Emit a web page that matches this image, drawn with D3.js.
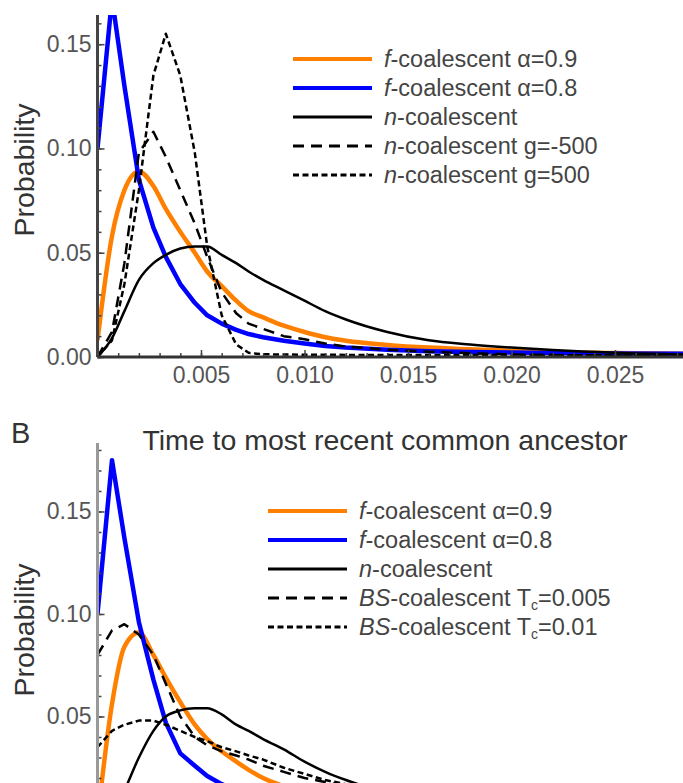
<!DOCTYPE html>
<html>
<head>
<meta charset="utf-8">
<script src="https://cdn.jsdelivr.net/npm/d3@7/dist/d3.min.js"></script>
<style>
  body { margin: 0; background: #fff; }
  svg { display: block; font-family: "Liberation Sans", Arial, sans-serif; }
</style>
</head>
<body>
<div id="chart"></div>
<script>
// time points shared by every curve (x axis)
var timeGrid = [0, 0.0007, 0.0013, 0.002, 0.0027, 0.0033, 0.004, 0.0047, 0.0053, 0.006, 0.0067, 0.0073,
                0.008, 0.009, 0.010, 0.011, 0.012, 0.014, 0.016, 0.018, 0.020, 0.022, 0.025, 0.030];

// panel A
var fAlpha09A = [0.008, 0.058, 0.080, 0.089, 0.082, 0.071, 0.060, 0.050, 0.041, 0.034, 0.027, 0.022,
                 0.019, 0.015, 0.012, 0.0095, 0.0078, 0.0058, 0.0045, 0.0037, 0.0030, 0.0024, 0.0019, 0.0014];
var fAlpha08A = [0.100, 0.172, 0.130, 0.085, 0.062, 0.048, 0.035, 0.026, 0.020, 0.016, 0.013, 0.011,
                 0.0095, 0.0078, 0.0065, 0.0053, 0.0045, 0.0035, 0.0028, 0.0024, 0.0021, 0.0019, 0.0017, 0.0015];
var nCoalA = [0, 0.009, 0.022, 0.037, 0.045, 0.049, 0.052, 0.053, 0.053, 0.049, 0.045, 0.041,
              0.037, 0.032, 0.027, 0.022, 0.018, 0.012, 0.008, 0.006, 0.0045, 0.0033, 0.002, 0.001];
var nCoalGm500A = [0, 0.012, 0.045, 0.098, 0.108, 0.096, 0.080, 0.064, 0.048, 0.031, 0.021, 0.016,
                   0.0135, 0.010, 0.0085, 0.0065, 0.005, 0.0035, 0.0025, 0.0018, 0.0012, 0.0009, 0.0006, 0.0003];
var nCoalGp500A = [0, 0.008, 0.035, 0.080, 0.135, 0.155, 0.135, 0.098, 0.053, 0.020, 0.006, 0.002,
                   0.0013, 0.0012, 0.0011, 0.0011, 0.0010, 0.0010, 0.0010, 0.0009, 0.0009, 0.0009, 0.0008, 0.0008];
var legendA = ["f-coalescent α=0.9", "f-coalescent α=0.8", "n-coalescent",
               "n-coalescent g=-500", "n-coalescent g=500"];

// panel B
var fAlpha09B = [0.0, 0.056, 0.084, 0.091, 0.080, 0.069, 0.057, 0.046, 0.039, 0.033, 0.028, 0.024,
                 0.020, 0.016, 0.013, 0.0105, 0.0085, 0.0062, 0.0048, 0.0038, 0.0031, 0.0026, 0.0020, 0.0015];
var fAlpha08B = [0.100, 0.175, 0.137, 0.096, 0.068, 0.047, 0.032, 0.026, 0.021, 0.017, 0.014, 0.012,
                 0.010, 0.0082, 0.0068, 0.0056, 0.0047, 0.0036, 0.0029, 0.0025, 0.0022, 0.0020, 0.0018, 0.0016];
var nCoalB = [0, 0.003, 0.014, 0.030, 0.043, 0.050, 0.053, 0.054, 0.054, 0.051, 0.046, 0.043,
              0.039, 0.034, 0.028, 0.023, 0.019, 0.013, 0.009, 0.006, 0.0045, 0.0033, 0.002, 0.001];
var bsTc0005B = [0.080, 0.092, 0.095, 0.090, 0.080, 0.066, 0.050, 0.040, 0.036, 0.033, 0.031, 0.029,
                 0.026, 0.023, 0.020, 0.018, 0.016, 0.012, 0.009, 0.007, 0.0055, 0.0042, 0.003, 0.0018];
var bsTc001B = [0.035, 0.043, 0.046, 0.048, 0.048, 0.046, 0.043, 0.040, 0.038, 0.035, 0.033, 0.031,
                0.029, 0.025, 0.022, 0.019, 0.017, 0.013, 0.010, 0.0075, 0.0058, 0.0045, 0.0032, 0.002];
var legendB = ["f-coalescent α=0.9", "f-coalescent α=0.8", "n-coalescent",
               "BS-coalescent Tc=0.005", "BS-coalescent Tc=0.01"];

var xTicks = [0.005, 0.010, 0.015, 0.020, 0.025];
var yTicks = [0.00, 0.05, 0.10, 0.15];
var titleB = "Time to most recent common ancestor";

// line look, same order for both panels
var lineStyles = [
    { color: "#ff8000", width: 4.5, dash: null, smooth: true },
    { color: "#0000ff", width: 4.5, dash: null, smooth: false },
    { color: "#000", width: 2.5, dash: null, smooth: true },
    { color: "#000", width: 2.5, dash: "11,7", smooth: false },
    { color: "#000", width: 2.5, dash: "6,3.5", smooth: false }
];

var W = 683, H = 783;
var svg = d3.select("#chart").append("svg").attr("width", W).attr("height", H);

var Panel = (function () {
    function Panel(id, opts) {
        this.id = id;
        this.opts = opts;
        this.x = d3.scaleLinear().domain([0, 0.03]).range([97.5, 718.5]);
        this.y = d3.scaleLinear().domain([0, opts.yMax]).range([opts.zeroY, opts.topY]);
        this.g = svg.append("g").attr("id", id);
        this.draw();
    }
    Panel.prototype.draw = function () {
        var _this = this, o = this.opts, x = this.x, y = this.y;

        this.g.append("clipPath").attr("id", this.id + "-clip")
            .append("rect")
            .attr("x", x(0)).attr("y", o.topY)
            .attr("width", W - x(0)).attr("height", o.zeroY - o.topY + 2);

        // curves
        var plot = this.g.append("g").attr("clip-path", "url(#" + this.id + "-clip)");
        o.series.forEach(function (vals, i) {
            var st = lineStyles[i];
            var line = d3.line()
                .x(function (d) { return x(d[0]); })
                .y(function (d) { return y(d[1]); })
                .curve(st.smooth ? d3.curveMonotoneX : d3.curveLinear);
            plot.append("path")
                .datum(timeGrid.map(function (t, k) { return [t, vals[k]]; }))
                .attr("d", line)
                .attr("fill", "none")
                .attr("stroke", st.color)
                .attr("stroke-width", st.width)
                .attr("stroke-dasharray", st.dash)
                .attr("stroke-linejoin", "round");
        });

        // y axis: minor + major ticks pointing inward
        var yMinor = d3.axisLeft(y).tickValues(d3.range(0, o.yMax, 0.01)).tickSize(-4).tickFormat("");
        var yMajor = d3.axisLeft(y)
            .tickValues(yTicks.filter(function (v) { return y(v) < H - 10; }))
            .tickSize(-7).tickSizeOuter(0)
            .tickPadding(6).tickFormat(d3.format(".2f"));
        var ya = this.g.append("g").attr("transform", "translate(" + x(0) + ",0)");
        ya.append("g").call(yMinor).select(".domain").remove();
        ya.append("g").call(yMajor).select(".domain").remove();
        ya.selectAll(".tick line").attr("stroke", "#444").attr("stroke-width", 1.5);
        ya.selectAll(".tick text").attr("font-size", 23).attr("fill", "#555")
            .attr("font-family", "Liberation Sans, Arial, sans-serif");
        ya.append("line").attr("x1", 0).attr("x2", 0).attr("y1", o.topY).attr("y2", o.zeroY)
            .attr("stroke", o.axisColor).attr("stroke-width", 3);

        // x axis (only when it sits inside the picture)
        if (o.zeroY < H) {
            var xMinor = d3.axisBottom(x).tickValues(d3.range(0.001, 0.0305, 0.001)).tickSize(-4).tickFormat("");
            var xMajor = d3.axisBottom(x).tickValues(xTicks).tickSize(-7).tickSizeOuter(0)
                .tickPadding(10).tickFormat(d3.format(".3f"));
            var xa = this.g.append("g").attr("transform", "translate(0," + o.zeroY + ")");
            xa.append("g").call(xMinor).select(".domain").remove();
            xa.append("g").call(xMajor).select(".domain").remove();
            xa.selectAll(".tick line").attr("stroke", "#444").attr("stroke-width", 1.5);
            xa.selectAll(".tick text").attr("font-size", 23).attr("fill", "#555")
                .attr("font-family", "Liberation Sans, Arial, sans-serif");
            xa.append("line").attr("x1", x(0)).attr("x2", x(0.03)).attr("y1", 0).attr("y2", 0)
                .attr("stroke", "#333").attr("stroke-width", 3);
        }

        // y label
        this.g.append("text")
            .attr("transform", "translate(34," + o.labelY + ") rotate(-90)")
            .attr("text-anchor", "middle")
            .attr("font-size", 28.5).attr("fill", "#333")
            .text("Probability");

        // legend
        var leg = this.g.append("g");
        o.legend.forEach(function (label, i) {
            var st = lineStyles[i];
            var ry = o.legendY + i * 29;
            leg.append("line")
                .attr("x1", o.legendX).attr("x2", o.legendX + 79)
                .attr("y1", ry).attr("y2", ry)
                .attr("stroke", st.color)
                .attr("stroke-width", st.width === 4.5 ? 4 : 3)
                .attr("stroke-dasharray", st.dash);
            var t = leg.append("text")
                .attr("x", o.legendX + 91).attr("y", ry + 8)
                .attr("font-size", 23.5).attr("fill", "#444");
            _this.writeLabel(t, label);
        });
    };
    /**
     * Writes a legend label: prefix before the first "-" in italics, "Tc" with a subscript c
     */
    Panel.prototype.writeLabel = function (t, label) {
        var cut = label.indexOf("-");
        t.append("tspan").attr("font-style", "italic").text(label.slice(0, cut));
        var rest = label.slice(cut);
        var m = rest.indexOf("Tc");
        if (m < 0) {
            t.append("tspan").text(rest);
        } else {
            t.append("tspan").text(rest.slice(0, m + 1));
            t.append("tspan").attr("font-size", 14).attr("dy", 4).text("c");
            t.append("tspan").attr("dy", -4).text(rest.slice(m + 2));
        }
    };
    return Panel;
}());

new Panel("panelA", {
    yMax: 0.164, zeroY: 357, topY: 15, labelY: 170, axisColor: "#444",
    series: [fAlpha09A, fAlpha08A, nCoalA, nCoalGm500A, nCoalGp500A],
    legend: legendA, legendX: 293, legendY: 59
});

new Panel("panelB", {
    yMax: 0.1834, zeroY: 819, topY: 443, labelY: 630, axisColor: "#999",
    series: [fAlpha09B, fAlpha08B, nCoalB, bsTc0005B, bsTc001B],
    legend: legendB, legendX: 268, legendY: 511
});

svg.append("text").attr("x", 11).attr("y", 443)
    .attr("font-size", 29).attr("fill", "#333").text("B");
svg.append("text").attr("x", 385).attr("y", 450).attr("text-anchor", "middle")
    .attr("font-size", 28.5).attr("fill", "#333").text(titleB);
</script>
</body>
</html>
